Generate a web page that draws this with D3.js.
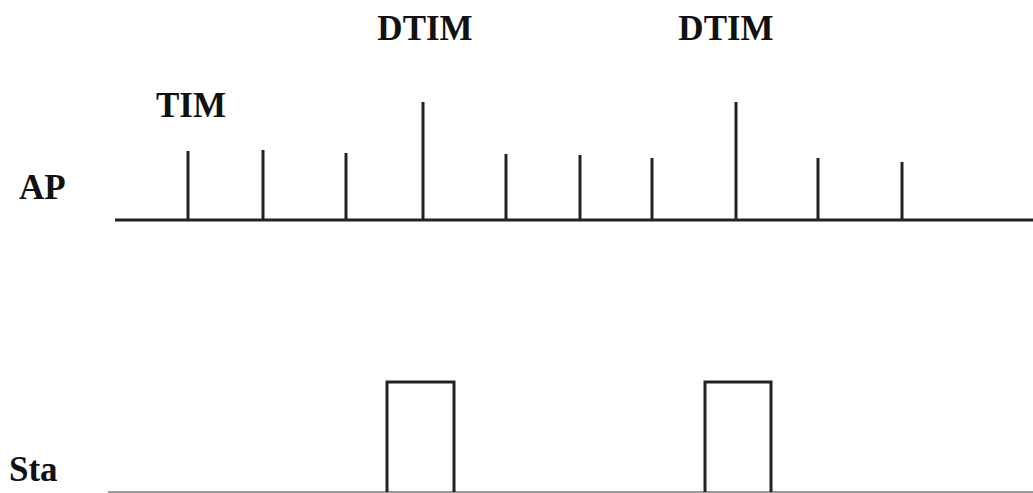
<!DOCTYPE html>
<html>
<head>
<meta charset="utf-8">
<script src="https://cdn.jsdelivr.net/npm/d3@7"></script>
<style>
  body { margin: 0; background: #fff; }
  text { font-family: "Liberation Serif", "Times New Roman", serif; font-weight: bold; fill: #111; }
</style>
</head>
<body>
<script>
var width = 1033, height = 493;

// beacon times (time units) and beacon heights on the AP line
var beaconTimes = [188, 263, 346, 423, 506, 580, 652, 736, 818, 902];
var beaconHeights = [69, 70, 67, 118, 66, 65, 62, 118, 62, 58];
// station awake windows [start, end]
var awakeStart = [387, 705];
var awakeEnd = [454, 771];
var awakeLevel = 110;
// labels
var dtimLabels = ["DTIM", "DTIM"];
var dtimLabelTimes = [425, 726];

var x = d3.scaleLinear().domain([0, 1033]).range([0, width]);
var yAP = d3.scaleLinear().domain([0, 120]).range([220, 100]);
var ySta = d3.scaleLinear().domain([0, 120]).range([492, 372]);

var svg = d3.select("body").append("svg")
    .attr("width", width)
    .attr("height", height);

// AP baseline
svg.append("line")
    .attr("x1", x(115)).attr("x2", x(1033))
    .attr("y1", yAP(0)).attr("y2", yAP(0))
    .attr("stroke", "#222").attr("stroke-width", 3);

svg.append("g").selectAll("line")
    .data(beaconTimes)
    .enter().append("line")
    .attr("x1", function(d){ return x(d); })
    .attr("x2", function(d){ return x(d); })
    .attr("y1", yAP(0))
    .attr("y2", function(d, i){ return yAP(beaconHeights[i]); })
    .attr("stroke", "#222").attr("stroke-width", 3);

// Sta baseline
svg.append("line")
    .attr("x1", x(108)).attr("x2", x(1033))
    .attr("y1", ySta(0)).attr("y2", ySta(0))
    .attr("stroke", "#777").attr("stroke-width", 1.5);

var windows = awakeStart.map(function(s, i){ return [s, awakeEnd[i]]; });
svg.append("g").selectAll("path")
    .data(windows)
    .enter().append("path")
    .attr("d", function(d){
        var p = d3.path();
        p.moveTo(x(d[0]), ySta(0));
        p.lineTo(x(d[0]), ySta(awakeLevel));
        p.lineTo(x(d[1]), ySta(awakeLevel));
        p.lineTo(x(d[1]), ySta(0));
        return p.toString();
    })
    .attr("fill", "none").attr("stroke", "#222").attr("stroke-width", 3);

// labels
svg.append("g").selectAll("text")
    .data(dtimLabels)
    .enter().append("text")
    .attr("x", function(d, i){ return x(dtimLabelTimes[i]); })
    .attr("y", 40)
    .attr("text-anchor", "middle")
    .style("font-size", "35px")
    .text(function(d){ return d; });

svg.append("text").attr("x", 156).attr("y", 117).style("font-size", "35px").text("TIM");
svg.append("text").attr("x", 19).attr("y", 199).style("font-size", "35px").text("AP");
svg.append("text").attr("x", 9).attr("y", 481).style("font-size", "35px").text("Sta");
</script>
</body>
</html>
